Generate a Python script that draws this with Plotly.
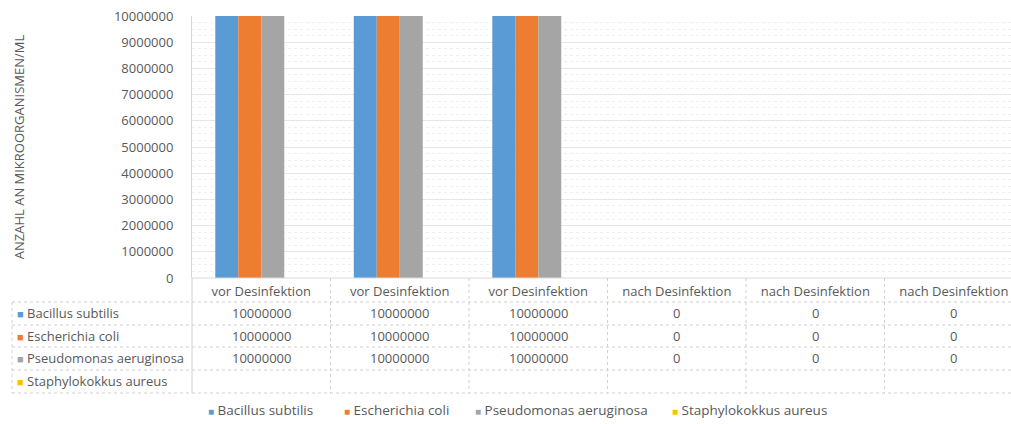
import plotly.graph_objects as go

# Data
categories = ["vor Desinfektion", "vor Desinfektion", "vor Desinfektion",
              "nach Desinfektion", "nach Desinfektion", "nach Desinfektion"]
series_names = ["Bacillus subtilis", "Escherichia coli",
                "Pseudomonas aeruginosa", "Staphylokokkus aureus"]
bacillus = [10000000, 10000000, 10000000, 0, 0, 0]
escherichia = [10000000, 10000000, 10000000, 0, 0, 0]
pseudomonas = [10000000, 10000000, 10000000, 0, 0, 0]
staphylokokkus = [None, None, None, None, None, None]
y_ticks = [0, 1000000, 2000000, 3000000, 4000000, 5000000,
           6000000, 7000000, 8000000, 9000000, 10000000]
y_title = "ANZAHL AN MIKROORGANISMEN/ML"

colors = ["#5B9BD5", "#ED7D31", "#A5A5A5", "#FFC000"]
values = [bacillus, escherichia, pseudomonas, staphylokokkus]

FONT = "Open Sans"
TXT = "#595959"
FS = 13
W, H = 1011, 424
L, R, T, B = 192, 0, 16, 146
PH = H - T - B  # plot height in px


def py(pix):
    """pixel row -> paper y"""
    return (H - B - pix) / PH


def px(pix):
    """pixel column -> paper x"""
    return (pix - L) / (W - L - R)


xpos = list(range(len(categories)))

fig = go.Figure()
for name, vals, col in zip(series_names, values, colors):
    fig.add_trace(go.Bar(x=xpos, y=vals, name=name, marker_color=col,
                         marker_line_width=0, showlegend=False))

fig.update_layout(
    width=W, height=H,
    margin=dict(l=L, r=R, t=T, b=B),
    paper_bgcolor="white", plot_bgcolor="white",
    barmode="group", bargap=0.336, bargroupgap=0,
    font=dict(family=FONT, size=FS, color=TXT),
)

fig.update_xaxes(
    range=[-0.5, 5.413], tickvals=xpos, ticktext=categories,
    showgrid=False, zeroline=False, showline=False, ticks="",
    tickfont=dict(family=FONT, size=FS, color=TXT),
    ticklabelstandoff=4,
)
fig.update_yaxes(
    range=[0, 10000000], tickvals=y_ticks, tickformat="d",
    showgrid=True, gridcolor="#E6E6E6", gridwidth=1,
    minor=dict(dtick=250000, showgrid=True, gridcolor="#EEEEEE", griddash="dot"),
    zeroline=False, showline=True, linecolor="#C5D9F1", linewidth=1,
    ticks="", ticklabelstandoff=15,
    tickfont=dict(family=FONT, size=FS, color=TXT),
    title=dict(text=y_title, font=dict(family=FONT, size=13, color=TXT), standoff=86),
)

shapes = []
annotations = []
line_style = dict(color="#D0D0D0", width=1, dash="dot")

# data table: horizontal rules
row_lines = [302, 325, 347, 370, 393]
shapes.append(dict(type="line", xref="paper", yref="paper", x0=0, x1=1,
                   y0=0, y1=0, line=dict(color="#D9D9D9", width=1)))
for r in row_lines:
    shapes.append(dict(type="line", xref="paper", yref="paper",
                       x0=px(12), x1=1, y0=py(r), y1=py(r), line=line_style))
# vertical rules at category boundaries
for i in range(1, len(categories)):
    shapes.append(dict(type="line", xref="x", yref="paper",
                       x0=i - 0.5, x1=i - 0.5, y0=0, y1=py(393), line=line_style))
shapes.append(dict(type="line", xref="paper", yref="paper",
                   x0=0, x1=0, y0=0, y1=py(393),
                   line=dict(color="#D0D0D0", width=1)))
shapes.append(dict(type="line", xref="paper", yref="paper",
                   x0=px(12), x1=px(12), y0=py(302), y1=py(393), line=line_style))

# data table: rows
row_centers = [313, 336, 358, 381]
for name, vals, col, yc in zip(series_names, values, colors, row_centers):
    annotations.append(dict(
        xref="paper", yref="paper", x=px(15), y=py(yc),
        xanchor="left", yanchor="middle", showarrow=False,
        text=f"<span style='color:{col};font-size:11px'>■</span> {name}",
        font=dict(family=FONT, size=FS, color=TXT)))
    for xi, v in zip(xpos, vals):
        if v is None:
            continue
        annotations.append(dict(
            xref="x", yref="paper", x=xi, y=py(yc),
            xanchor="center", yanchor="middle", showarrow=False,
            text=str(int(v)), font=dict(family=FONT, size=FS, color=TXT)))

# legend below the table
legend_x = [206, 342, 473, 670]
for name, col, lx in zip(series_names, colors, legend_x):
    annotations.append(dict(
        xref="paper", yref="paper", x=px(lx), y=py(410),
        xanchor="left", yanchor="middle", showarrow=False,
        text=f"<span style='color:{col};font-size:10px'>■</span> {name}",
        font=dict(family=FONT, size=13.5, color=TXT)))

fig.update_layout(shapes=shapes, annotations=annotations)
fig.write_html("out.html")
